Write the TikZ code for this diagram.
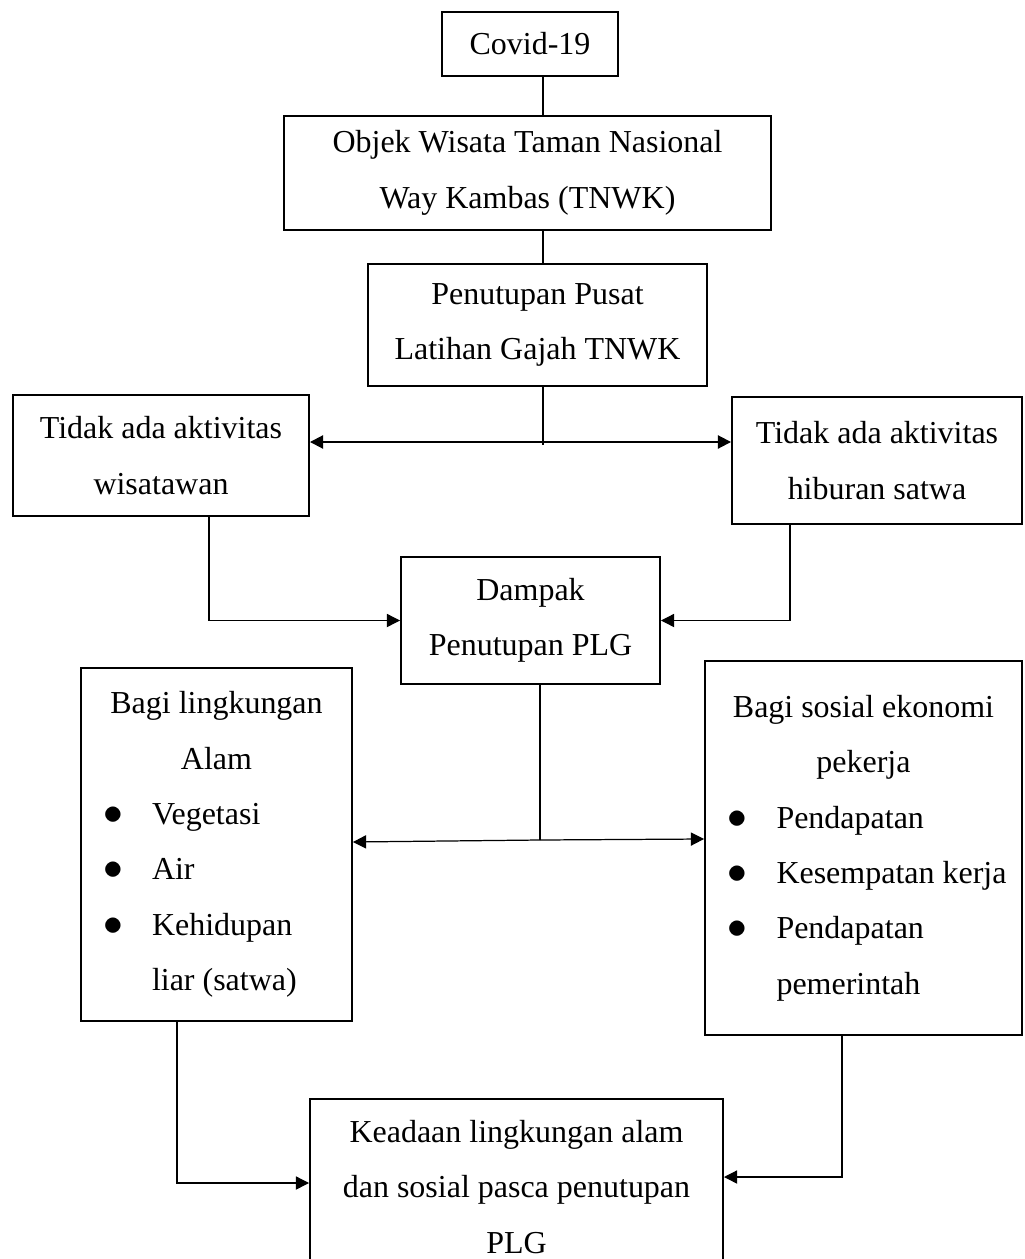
\documentclass[tikz,border=0pt]{standalone}
\usepackage{fontspec}
\usepackage{graphicx}
\setmainfont{Liberation Serif}
\usetikzlibrary{arrows.meta}

% baris daftar
\newcommand{\tengah}[2]{\makebox[#1]{#2}}
\newcommand{\butir}[2]{\makebox[#1][l]{\hspace*{0.23cm}\makebox[0.98cm][l]{\scalebox{1.3}{$\bullet$}}#2}}
\newcommand{\lanjut}[2]{\makebox[#1][l]{\hspace*{1.21cm}#2}}

\tikzset{
    box/.style={draw, line width=1.1pt, align=center, inner sep=0pt,
        font=\fontsize{18.2}{31.5}\selectfont},
    stem/.style={line width=1.1pt},
    link/.style={line width=0.7pt},
    tip/.style={-{Triangle[length=7.5pt,width=7.5pt]}}
}

\begin{document}
\begin{tikzpicture}

% Batas gambar
\clip (0,0) rectangle (20.48,-25.18);
\fill[white] (0,0) rectangle (20.48,-25.18);

% Kotak atas
\node[box, minimum width=3.52cm, minimum height=1.28cm]
(covid) at (10.60,-0.88)
{Covid-19};

\node[box, minimum width=9.74cm, minimum height=2.28cm]
(objek) at (10.55,-3.46)
{Objek Wisata Taman Nasional\\Way Kambas (TNWK)};

\node[box, minimum width=6.78cm, minimum height=2.44cm]
(penutupan) at (10.75,-6.50)
{Penutupan Pusat\\Latihan Gajah TNWK};

% Kotak samping
\node[box, minimum width=5.92cm, minimum height=2.42cm]
(wisatawan) at (3.22,-9.11)
{Tidak ada aktivitas\\wisatawan};

\node[box, minimum width=5.80cm, minimum height=2.54cm]
(hiburan) at (17.54,-9.21)
{Tidak ada aktivitas\\hiburan satwa};

\node[box, minimum width=5.18cm, minimum height=2.54cm]
(dampak) at (10.61,-12.41)
{Dampak\\Penutupan PLG};

% Kotak daftar
\node[box, minimum width=5.42cm, minimum height=7.06cm]
(alam) at (4.33,-16.89)
{\tengah{5cm}{Bagi lingkungan}\\
\tengah{5cm}{Alam}\\
\butir{5cm}{Vegetasi}\\
\butir{5cm}{Air}\\
\butir{5cm}{Kehidupan}\\
\lanjut{5cm}{liar (satwa)}};

\node[box, minimum width=6.34cm, minimum height=7.48cm]
(sosial) at (17.27,-16.96)
{\tengah{5.9cm}{Bagi sosial ekonomi}\\
\tengah{5.9cm}{pekerja}\\
\butir{5.9cm}{Pendapatan}\\
\butir{5.9cm}{Kesempatan kerja}\\
\butir{5.9cm}{Pendapatan}\\
\lanjut{5.9cm}{pemerintah}};

% Kotak bawah
\node[box, minimum width=8.26cm, minimum height=3.52cm]
(keadaan) at (10.33,-23.74)
{Keadaan lingkungan alam\\dan sosial pasca penutupan\\PLG};

% Garis tengah
\coordinate (poros) at (10.86,0);
\coordinate (bagi1) at (10.86,-8.84);
\coordinate (bagi2) at (10.80,-16.80);

\draw[stem] (covid.south -| poros) -- (objek.north -| poros);
\draw[stem] (objek.south -| poros) -- (penutupan.north -| poros);
\draw[stem] (penutupan.south -| poros) -- ([yshift=-0.05cm]bagi1);

\draw[stem, tip] (bagi1) -- (bagi1 -| wisatawan.east);
\draw[stem, tip] (bagi1) -- (bagi1 -| hiburan.west);

% Menuju dampak
\coordinate (kiri1) at (4.18,0);
\coordinate (kanan1) at (15.80,0);

\draw[link, tip] (wisatawan.south -| kiri1) |- (dampak.west);
\draw[link, tip] (hiburan.south -| kanan1) |- (dampak.east);

% Dari dampak
\draw[stem] (dampak.south -| bagi2) -- (bagi2);
\draw[link, tip] (bagi2) -- ([yshift=-0.04cm]bagi2 -| alam.east);
\draw[link, tip] (bagi2) -- ([yshift=0.02cm]bagi2 -| sosial.west);

% Menuju keadaan
\coordinate (kiri2) at (3.54,0);
\coordinate (kanan2) at (16.84,0);

\draw[link, tip] (alam.south -| kiri2) |- ([yshift=0.08cm]keadaan.west);
\draw[link, tip] (sosial.south -| kanan2) |- ([yshift=0.2cm]keadaan.east);

\end{tikzpicture}
\end{document}
